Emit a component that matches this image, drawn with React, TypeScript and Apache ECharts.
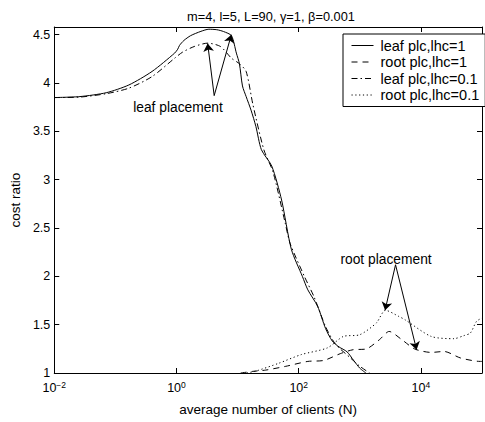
import React, { useEffect, useRef } from "react";
import * as echarts from "echarts";

const FONT = '"Liberation Sans", Arial, Helvetica, sans-serif';

const titleText = "m=4, l=5, L=90, γ=1, β=0.001";
const xAxisName = "average number of clients (N)";
const yAxisName = "cost ratio";
const seriesNames = ["leaf plc,lhc=1", "root plc,lhc=1", "leaf plc,lhc=0.1", "root plc,lhc=0.1"];
const xTickExponents = [-2, 0, 2, 4];
const yTickValues = [1, 1.5, 2, 2.5, 3, 3.5, 4, 4.5];

// x values are log10(N), y values are the cost ratio
const leafLhc1LogN = [-2, -1.58, -1.15, -0.78, -0.4, -0.03, 0.02, 0.05, 0.12, 0.23, 0.4, 0.53, 0.66, 0.77, 0.9, 0.98, 1.03, 1.08, 1.14, 1.22, 1.3, 1.39, 1.56, 1.72, 1.88, 2.06, 2.15, 2.31, 2.44, 2.55, 2.66, 2.79, 2.9, 3.0, 3.1];
const leafLhc1Ratio = [3.85, 3.86, 3.9, 3.98, 4.12, 4.31, 4.35, 4.39, 4.44, 4.49, 4.535, 4.557, 4.552, 4.533, 4.49, 4.31, 4.2, 3.97, 3.86, 3.72, 3.55, 3.31, 3.14, 2.79, 2.28, 2.0, 1.86, 1.69, 1.46, 1.33, 1.27, 1.22, 1.13, 1.05, 1.0];

const rootLhc1LogN = [1.05, 1.25, 1.46, 1.78, 2.15, 2.41, 2.68, 2.89, 3.1, 3.32, 3.48, 3.69, 3.9, 4.17, 4.38, 4.65, 4.97, 5.0];
const rootLhc1Ratio = [1.0, 1.017, 1.03, 1.068, 1.12, 1.13, 1.2, 1.241, 1.248, 1.344, 1.43, 1.344, 1.248, 1.213, 1.223, 1.155, 1.12, 1.12];

const leafLhc01LogN = [-2, -1.58, -1.15, -0.78, -0.4, -0.03, 0.1, 0.29, 0.51, 0.72, 0.9, 1.03, 1.14, 1.25, 1.43, 1.58, 1.78, 1.86, 2.1, 2.25, 2.44, 2.6, 2.84, 3.0, 3.16];
const leafLhc01Ratio = [3.85, 3.855, 3.89, 3.947, 4.067, 4.257, 4.32, 4.378, 4.413, 4.378, 4.257, 4.2, 4.12, 3.78, 3.31, 3.08, 2.55, 2.34, 1.99, 1.79, 1.48, 1.3, 1.16, 1.07, 1.0];

const rootLhc01LogN = [1.15, 1.3, 1.67, 2.04, 2.47, 2.73, 3.0, 3.27, 3.42, 3.64, 3.74, 4.17, 4.54, 4.7, 4.81, 4.91, 5.0];
const rootLhc01Ratio = [1.0, 1.02, 1.1, 1.19, 1.26, 1.378, 1.396, 1.517, 1.649, 1.585, 1.551, 1.378, 1.355, 1.386, 1.414, 1.534, 1.569];

const pairs = (xs: number[], ys: number[]) => xs.map((x, i) => [x, ys[i]]);

const lineStyles: any[] = [
  { type: "solid", width: 1 },
  { type: [6, 5], width: 1 },
  { type: [6, 3, 1.5, 3], width: 1 },
  { type: [1.2, 2.6], width: 1 },
];

const seriesData = [
  pairs(leafLhc1LogN, leafLhc1Ratio),
  pairs(rootLhc1LogN, rootLhc1Ratio),
  pairs(leafLhc01LogN, leafLhc01Ratio),
  pairs(rootLhc01LogN, rootLhc01Ratio),
];

// annotation arrows, in axis coordinates [log10(N), cost ratio]
const leafArrows = [
  [[0.617, 3.87], [0.51, 4.41]],
  [[0.617, 3.87], [0.898, 4.5]],
];
const rootArrows = [
  [[3.585, 2.12], [3.414, 1.65]],
  [[3.585, 2.12], [3.93, 1.24]],
];

const supOf = (e: number) => (e < 0 ? "\u2212" + Math.abs(e) : String(e));

export default function App() {
  const ref = useRef<HTMLDivElement>(null);
  useEffect(() => {
    if (!ref.current) return;
    const chart = echarts.init(ref.current, null, { renderer: "svg" });
    const axisLine = { show: true, onZero: false, lineStyle: { color: "#000", width: 1 } };
    const tick = { show: true, inside: true, length: 5, lineStyle: { color: "#000", width: 1 } };
    const xCommon = { type: "value", min: -2, max: 5, interval: 2, splitLine: { show: false } };
    const yCommon = { type: "value", min: 1, max: 4.58, interval: 0.5, splitLine: { show: false } };
    const arrowLines = [...leafArrows, ...rootArrows].map((a) => [
      { coord: a[0] },
      { coord: a[1] },
    ]);
    const series: any[] = seriesNames.map((name, i) => ({
      name,
      type: "line",
      data: seriesData[i],
      symbol: "none",
      showSymbol: false,
      smooth: 0.25,
      clip: true,
      lineStyle: { color: "#000", ...lineStyles[i] },
      itemStyle: { color: "#000" },
      z: 3,
      ...(i === 0
        ? {
            markLine: {
              silent: true,
              symbol: ["none", "arrow"],
              symbolSize: 8,
              label: { show: false },
              lineStyle: { color: "#000", type: "solid", width: 1 },
              data: arrowLines,
            },
          }
        : {}),
    }));
    chart.setOption({
      animation: false,
      backgroundColor: "#fff",
      textStyle: { fontFamily: FONT },
      title: {
        text: titleText,
        left: 266,
        textAlign: "center",
        top: 5,
        textStyle: { fontFamily: FONT, fontSize: 12.8, fontWeight: "normal", color: "#000" },
      },
      grid: { left: 47, right: -1, top: 27, bottom: 49, containLabel: false },
      legend: {
        data: seriesNames,
        orient: "vertical",
        left: 343,
        top: 34,
        itemWidth: 22,
        itemHeight: 12,
        itemGap: 1.5,
        padding: [4, 6, 4, 8],
        borderColor: "#000",
        borderWidth: 1,
        backgroundColor: "#fff",
        itemStyle: { opacity: 0, borderWidth: 0 },
        lineStyle: { width: 1 },
        textStyle: { fontFamily: FONT, fontSize: 14.5, lineHeight: 14, color: "#000", padding: [0, 0, 0, 2] },
        selectedMode: false,
      },
      xAxis: [
        {
          ...xCommon,
          position: "bottom",
          name: xAxisName,
          nameLocation: "middle",
          nameGap: 29,
          nameTextStyle: { fontFamily: FONT, fontSize: 13.5, color: "#000" },
          axisLine,
          axisTick: tick,
          axisLabel: {
            margin: 7,
            formatter: (v: number) =>
              xTickExponents.includes(v) ? `{b|10}{s|${supOf(v)}}` : "",
            rich: {
              b: { fontFamily: FONT, fontSize: 12.5, color: "#000", lineHeight: 16 },
              s: { fontFamily: FONT, fontSize: 8.5, color: "#000", lineHeight: 6, verticalAlign: "top" },
            },
          },
        },
        { ...xCommon, position: "top", axisLine, axisTick: tick, axisLabel: { show: false } },
      ],
      yAxis: [
        {
          ...yCommon,
          position: "left",
          name: yAxisName,
          nameLocation: "middle",
          nameGap: 24,
          nameTextStyle: { fontFamily: FONT, fontSize: 13.5, color: "#000" },
          axisLine,
          axisTick: tick,
          axisLabel: {
            margin: 4,
            fontFamily: FONT,
            fontSize: 12.5,
            color: "#000",
            formatter: (v: number) =>
              yTickValues.some((t) => Math.abs(t - v) < 1e-6) ? String(v) : "",
          },
        },
        { ...yCommon, position: "right", axisLine, axisTick: tick, axisLabel: { show: false } },
      ],
      graphic: [
        {
          type: "text",
          x: 178,
          y: 107,
          style: { text: "leaf placement", font: `13.8px ${FONT}`, fill: "#000", align: "center", verticalAlign: "middle" },
          z: 10,
        },
        {
          type: "text",
          x: 386,
          y: 259,
          style: { text: "root placement", font: `13.8px ${FONT}`, fill: "#000", align: "center", verticalAlign: "middle" },
          z: 10,
        },
      ],
      series,
    });
    return () => chart.dispose();
  }, []);
  return <div ref={ref} style={{ position: "fixed", left: 0, top: 0, width: 485, height: 422 }} />;
}
